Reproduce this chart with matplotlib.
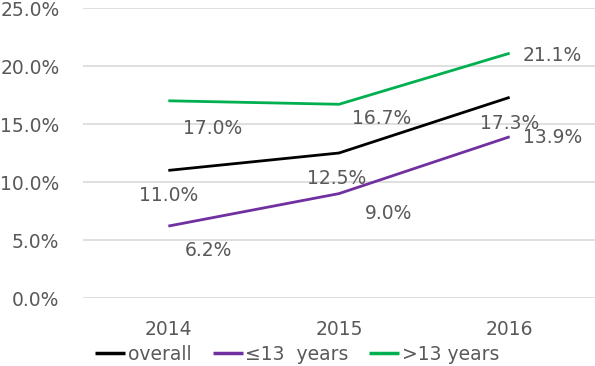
import matplotlib
matplotlib.use("Agg")
import matplotlib.pyplot as plt

years = ["2014", "2015", "2016"]
overall = [11.0, 12.5, 17.3]
le13 = [6.2, 9.0, 13.9]
gt13 = [17.0, 16.7, 21.1]
series_names = ["overall", "≤13  years", ">13 years"]
yticks = [0, 5, 10, 15, 20, 25]

colors = ["#000000", "#7030a0", "#00b050"]
# label offsets in pixels (dx, dy) per series/point
offsets = [
    [(0, -25), (-2, -25), (0, -26)],
    [(40, -24), (50, -20), (43, -1)],
    [(44, -28), (43, -14), (43, -2)],
]

plt.rcParams['font.family'] = ['DejaVu Sans']
TXT = "#595959"
FS = 13.5

fig = plt.figure(figsize=(5.95, 3.66), dpi=100)
ax = fig.add_axes([83/595, 1-298/366, (595-83)/595, (298-8)/366])

x = list(range(len(years)))
all_series = [overall, le13, gt13]
for vals, name, c, offs in zip(all_series, series_names, colors, offsets):
    ax.plot(x, vals, color=c, lw=2.0, label=name, solid_capstyle='butt')
    for xi, v, (dx, dy) in zip(x, vals, offs):
        ax.annotate(f"{v:.1f}%", (xi, v), xytext=(dx, dy), textcoords='offset pixels',
                    ha='center', va='center', fontsize=FS, color=TXT)

ax.set_xlim(-0.5, 2.5)
ax.set_ylim(0, 25)
ax.set_yticks(yticks)
ax.set_yticklabels([f"{t:.1f}%" for t in yticks])
ax.set_xticks(x)
ax.set_xticklabels(years)
ax.tick_params(axis='both', length=0, labelsize=FS, labelcolor=TXT)
ax.tick_params(axis='y', pad=17)
ax.tick_params(axis='x', pad=16)
ax.grid(axis='y', color="#d9d9d9", lw=1.2)
ax.set_axisbelow(True)
for s in ax.spines.values():
    s.set_visible(False)

handles, labels = ax.get_legend_handles_labels()
leg = fig.legend(handles, labels, loc='center', bbox_to_anchor=(0.5, 1-354/366), ncol=3,
                 frameon=False, fontsize=FS, handlelength=1.6, handletextpad=0.15,
                 columnspacing=1.1, borderpad=0, borderaxespad=0)
for t in leg.get_texts():
    t.set_color(TXT)
for l in leg.get_lines():
    l.set_linewidth(2.5)

fig.savefig("out.png", dpi=100)
